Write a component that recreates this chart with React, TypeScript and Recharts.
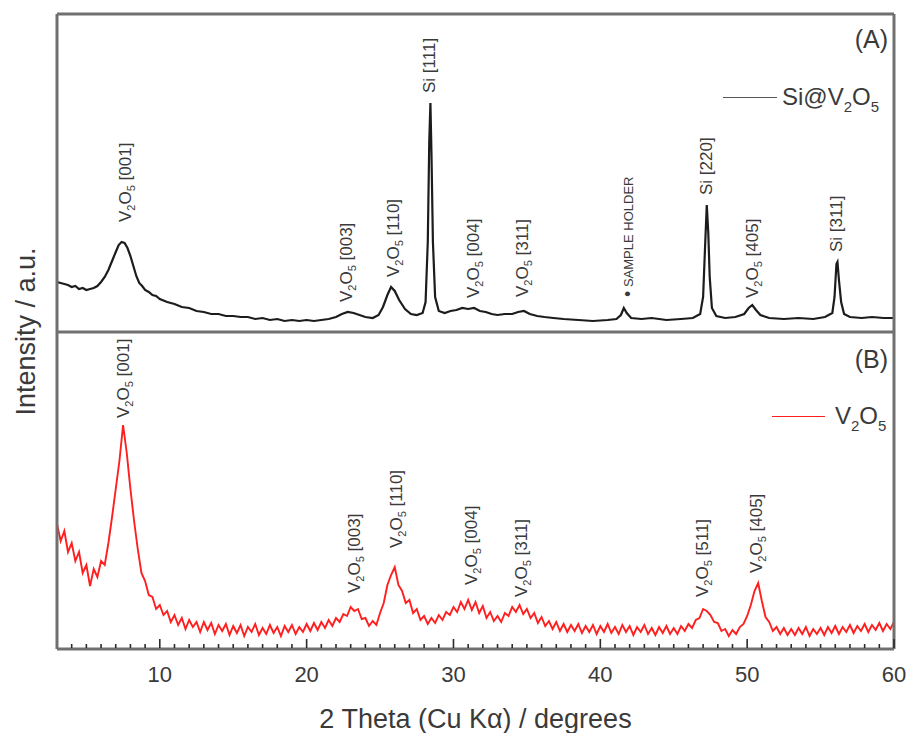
import React from 'react';
import { LineChart, Line, XAxis, YAxis, ReferenceLine, ReferenceDot, Legend } from 'recharts';

// XRD patterns, two stacked panels sharing one 2θ axis.
// Panel A (Si@V2O5) sits on y-axis "a", panel B (V2O5) on y-axis "b".
const FONT = '"Liberation Sans", Arial, Helvetica, sans-serif';
const FRAME = '#707070';
const INK = '#3a3a3a';
const BLACK = '#1c1c1c';
const RED = '#ff1f1f';

// [2θ, intensity a.u.]
const siV2O5: [number, number][] = [
  [3.0, 50], [3.25, 49], [3.5, 48], [3.75, 47], [4.0, 45], [4.25, 46], [4.5, 43], [4.75, 44],
  [5.0, 42], [5.25, 43], [5.5, 44], [5.75, 46], [6.0, 50], [6.25, 55], [6.5, 62], [6.75, 71],
  [7.0, 80], [7.2, 87], [7.4, 90], [7.6, 89], [7.8, 84], [8.0, 76], [8.2, 66], [8.4, 56],
  [8.6, 49], [8.8, 46], [9.0, 42], [9.25, 40], [9.5, 37], [9.75, 36], [10.0, 33], [10.5, 30],
  [11.0, 28], [11.5, 25], [12.0, 24], [12.5, 21], [13.0, 20], [13.5, 18], [14.0, 18], [14.5, 16],
  [15.0, 16], [15.5, 15], [16.0, 15], [16.5, 13], [17.0, 14], [17.5, 12], [18.0, 13], [18.5, 11],
  [19.0, 12], [19.5, 11], [20.0, 12], [20.5, 11], [21.0, 12], [21.5, 13], [22.0, 15], [22.4, 18],
  [22.8, 20], [23.2, 19], [23.6, 17], [24.0, 15], [24.5, 14], [24.9, 17], [25.2, 25], [25.5, 37],
  [25.75, 45], [26.0, 41], [26.3, 32], [26.7, 23], [27.1, 18], [27.5, 17], [27.9, 19], [28.1, 30],
  [28.25, 90], [28.35, 190], [28.43, 229], [28.5, 180], [28.6, 90], [28.75, 35], [29.0, 21], [29.4, 19],
  [29.8, 21], [30.2, 22], [30.6, 24], [31.0, 23], [31.4, 24], [31.8, 21], [32.2, 20], [32.6, 18],
  [33.0, 17], [33.5, 18], [34.0, 18], [34.4, 20], [34.8, 21], [35.2, 18], [35.7, 16], [36.2, 15],
  [36.8, 14], [37.5, 13], [38.5, 12], [39.5, 11], [40.5, 12], [41.1, 13], [41.4, 17], [41.6, 24],
  [41.8, 19], [42.1, 14], [42.8, 13], [43.5, 14], [44.5, 12], [45.5, 13], [46.3, 14], [46.8, 18],
  [47.0, 35], [47.12, 80], [47.25, 127], [47.35, 100], [47.45, 55], [47.6, 24], [47.9, 16], [48.5, 14],
  [49.2, 15], [49.8, 18], [50.1, 24], [50.35, 27], [50.6, 22], [50.9, 17], [51.5, 14], [52.5, 13],
  [53.5, 14], [54.5, 13], [55.3, 15], [55.8, 19], [55.95, 35], [56.08, 68], [56.15, 70], [56.25, 52],
  [56.4, 30], [56.6, 18], [57.0, 15], [57.8, 14], [58.5, 15], [59.3, 14], [60.0, 14],
];

// panel B is recorded on a fixed 0.25° step starting at 3°
const V2O5_START = 3;
const V2O5_STEP = 0.25;
const v2o5Counts = [
  125, 108, 118, 97, 106, 88, 97, 76,
  84, 63, 80, 72, 88, 84, 106, 132,
  160, 188, 224, 196, 160, 128, 100, 76,
  68, 54, 52, 40, 44, 34, 38, 27,
  34, 24, 31, 20, 29, 22, 27, 17,
  27, 19, 26, 15, 24, 18, 25, 14,
  23, 16, 24, 13, 22, 17, 25, 14,
  21, 15, 24, 16, 22, 13, 23, 17,
  24, 15, 22, 17, 25, 18, 26, 19,
  27, 21, 29, 23, 31, 27, 35, 33,
  42, 38, 40, 30, 31, 23, 28, 24,
  36, 46, 64, 74, 82, 64, 58, 46,
  49, 36, 40, 29, 33, 25, 31, 26,
  34, 29, 37, 34, 42, 37, 47, 40,
  49, 39, 47, 36, 43, 31, 37, 28,
  33, 27, 36, 33, 42, 37, 44, 35,
  40, 31, 36, 26, 32, 23, 28, 20,
  27, 18, 25, 17, 24, 18, 25, 16,
  23, 17, 24, 15, 23, 17, 25, 16,
  22, 15, 24, 17, 23, 14, 22, 17,
  24, 15, 21, 14, 22, 16, 23, 15,
  21, 15, 23, 18, 25, 21, 29, 31,
  40, 38, 34, 27, 26, 18, 20, 13,
  19, 15, 22, 25, 33, 44, 58, 66,
  48, 32, 27, 18, 22, 15, 21, 14,
  20, 14, 21, 15, 22, 13, 20, 15,
  21, 14, 22, 16, 23, 15, 22, 17,
  24, 16, 23, 18, 25, 17, 24, 19,
  26, 18, 25, 20, 27,
];

const topData = siV2O5.map(([t, i]) => ({ t, i }));
const bottomData = v2o5Counts.map((i, k) => ({ t: V2O5_START + k * V2O5_STEP, i }));

const majorTicks = [10, 20, 30, 40, 50, 60];
const minorTicks: number[] = [];
for (let d = 4; d <= 60; d++) minorTicks.push(d);

type Peak = { t: number; i: number; phase: 'V2O5' | 'Si' | 'holder'; hkl: string };

// label anchor = 2θ of the peak and intensity where the text starts
const topPeaks: Peak[] = [
  { t: 7.6, i: 110, phase: 'V2O5', hkl: '[001]' },
  { t: 22.7, i: 30, phase: 'V2O5', hkl: '[003]' },
  { t: 25.85, i: 55, phase: 'V2O5', hkl: '[110]' },
  { t: 28.35, i: 239, phase: 'Si', hkl: '[111]' },
  { t: 31.3, i: 34, phase: 'V2O5', hkl: '[004]' },
  { t: 34.7, i: 35, phase: 'V2O5', hkl: '[311]' },
  { t: 41.8, i: 35, phase: 'holder', hkl: '' },
  { t: 47.2, i: 137, phase: 'Si', hkl: '[220]' },
  { t: 50.3, i: 34, phase: 'V2O5', hkl: '[405]' },
  { t: 56.05, i: 80, phase: 'Si', hkl: '[311]' },
];

const bottomPeaks: Peak[] = [
  { t: 7.5, i: 231, phase: 'V2O5', hkl: '[001]' },
  { t: 23.25, i: 56, phase: 'V2O5', hkl: '[003]' },
  { t: 26.1, i: 101, phase: 'V2O5', hkl: '[110]' },
  { t: 31.2, i: 64, phase: 'V2O5', hkl: '[004]' },
  { t: 34.6, i: 52, phase: 'V2O5', hkl: '[311]' },
  { t: 46.95, i: 52, phase: 'V2O5', hkl: '[511]' },
  { t: 50.6, i: 76, phase: 'V2O5', hkl: '[405]' },
];

function PeakText({ cx, cy, peak }: { cx: number; cy: number; peak: Peak }) {
  const x = cx + 6;
  const common = {
    x, y: cy, transform: `rotate(-90 ${x} ${cy})`, fill: INK, fontFamily: FONT,
  };
  if (peak.phase === 'holder') {
    return (
      <text {...common} fontSize={13}>
        <tspan fontSize={18} dy={1}>{'\u2022'}</tspan>
        <tspan dy={-1}>{' SAMPLE HOLDER'}</tspan>
      </text>
    );
  }
  if (peak.phase === 'Si') {
    return <text {...common} fontSize={17}>{`Si ${peak.hkl}`}</text>;
  }
  return (
    <text {...common} fontSize={17}>
      V<tspan dy={4} fontSize={11}>2</tspan>
      <tspan dy={-4}>O</tspan>
      <tspan dy={4} fontSize={11}>5</tspan>
      <tspan dy={-4}>{` ${peak.hkl}`}</tspan>
    </text>
  );
}

function ThetaTick(props: any) {
  const { x, y, payload } = props;
  const major = majorTicks.includes(payload.value);
  return (
    <g>
      <line x1={x} x2={x} y1={y - 1} y2={y - (major ? 10 : 5)} stroke="#2a2a2a" strokeWidth={1.6} />
      {major && (
        <text x={x} y={y + 33} textAnchor="middle" fontSize={22} fill={INK} fontFamily={FONT}>
          {payload.value}
        </text>
      )}
    </g>
  );
}

function Formula({ name }: { name: string }) {
  const sub = { fontSize: 15, position: 'relative' as const, top: 7 };
  if (name === 'Si@V2O5') {
    return <span>Si@V<span style={sub}>2</span>O<span style={sub}>5</span></span>;
  }
  return <span>V<span style={sub}>2</span>O<span style={sub}>5</span></span>;
}

// legend swatches placed inside each panel, top-right
const legendSpots: Record<string, { lx: number; lw: number; y: number; tx: number }> = {
  'Si@V2O5': { lx: 723, lw: 54, y: 97, tx: 782 },
  V2O5: { lx: 772, lw: 53, y: 416, tx: 835 },
};

function PanelLegend(props: any) {
  const items = props.payload || [];
  return (
    <div style={{ position: 'relative', width: 909, height: 0 }}>
      {items.map((it: any) => {
        const s = legendSpots[it.value];
        if (!s) return null;
        return (
          <React.Fragment key={it.value}>
            <div style={{
              position: 'absolute', left: s.lx, top: s.y, width: s.lw, height: 0,
              borderTop: `1.5px solid ${it.value === 'V2O5' ? RED : '#555'}`,
            }} />
            <div style={{
              position: 'absolute', left: s.tx, top: s.y - 12, fontSize: 24, lineHeight: '24px',
              color: INK, fontFamily: FONT, whiteSpace: 'nowrap',
            }}>
              <Formula name={it.value} />
            </div>
          </React.Fragment>
        );
      })}
    </div>
  );
}

function PanelTag({ cx, cy, text }: { cx: number; cy: number; text: string }) {
  return (
    <text x={cx - 6} y={cy} textAnchor="end" fontSize={25} fill={INK} fontFamily={FONT}>{text}</text>
  );
}

export default function App() {
  const frame = { stroke: FRAME, strokeWidth: 3 };
  return (
    <div style={{ position: 'absolute', left: 0, top: 0, width: 909, height: 733, background: '#fff' }}>
      <LineChart width={909} height={733} margin={{ top: 0, right: 0, bottom: 0, left: 0 }}>
        <XAxis
          xAxisId="top" orientation="top" type="number" domain={[3, 60]} allowDataOverflow
          height={14} tick={false} tickLine={false} axisLine={frame}
        />
        <XAxis
          dataKey="t" type="number" domain={[3, 60]} allowDataOverflow height={84}
          ticks={minorTicks} interval={0} tickSize={0} tickMargin={0} tickLine={false}
          tick={<ThetaTick />} axisLine={frame}
          label={{
            value: '2 Theta (Cu K\u03b1) / degrees', position: 'insideBottom', offset: 5,
            fontSize: 27, fill: INK, fontFamily: FONT,
          }}
        />
        <YAxis
          yAxisId="a" type="number" domain={[-317, 318]} allowDataOverflow width={57}
          tick={false} tickLine={false} axisLine={frame}
          label={{
            value: 'Intensity / a.u.', angle: -90, position: 'center', dx: -3,
            fontSize: 27, fill: INK, fontFamily: FONT,
          }}
        />
        <YAxis
          yAxisId="b" orientation="right" type="number" domain={[0, 635]} allowDataOverflow width={15}
          tick={false} tickLine={false} axisLine={frame}
        />
        <ReferenceLine yAxisId="a" y={0} stroke={FRAME} strokeWidth={3} />
        <Legend
          verticalAlign="top" align="left" layout="horizontal"
          wrapperStyle={{ left: 0, top: 0, width: 909, height: 0 }}
          content={<PanelLegend />}
        />
        <Line
          yAxisId="a" data={topData} dataKey="i" name="Si@V2O5" stroke={BLACK} strokeWidth={2.2}
          dot={false} isAnimationActive={false} type="linear"
        />
        <Line
          yAxisId="b" data={bottomData} dataKey="i" name="V2O5" stroke={RED} strokeWidth={1.9}
          dot={false} isAnimationActive={false} type="linear"
        />
        {topPeaks.map((p) => (
          <ReferenceDot
            key={`a-${p.t}`} yAxisId="a" x={p.t} y={p.i} r={0} ifOverflow="visible"
            shape={(s: any) => <PeakText cx={s.cx} cy={s.cy} peak={p} />}
          />
        ))}
        {bottomPeaks.map((p) => (
          <ReferenceDot
            key={`b-${p.t}`} yAxisId="b" x={p.t} y={p.i} r={0} ifOverflow="visible"
            shape={(s: any) => <PeakText cx={s.cx} cy={s.cy} peak={p} />}
          />
        ))}
        <ReferenceDot yAxisId="a" x={60} y={284} r={0} ifOverflow="visible"
          shape={(s: any) => <PanelTag cx={s.cx} cy={s.cy} text="(A)" />} />
        <ReferenceDot yAxisId="b" x={60} y={281} r={0} ifOverflow="visible"
          shape={(s: any) => <PanelTag cx={s.cx} cy={s.cy} text="(B)" />} />
      </LineChart>
    </div>
  );
}
